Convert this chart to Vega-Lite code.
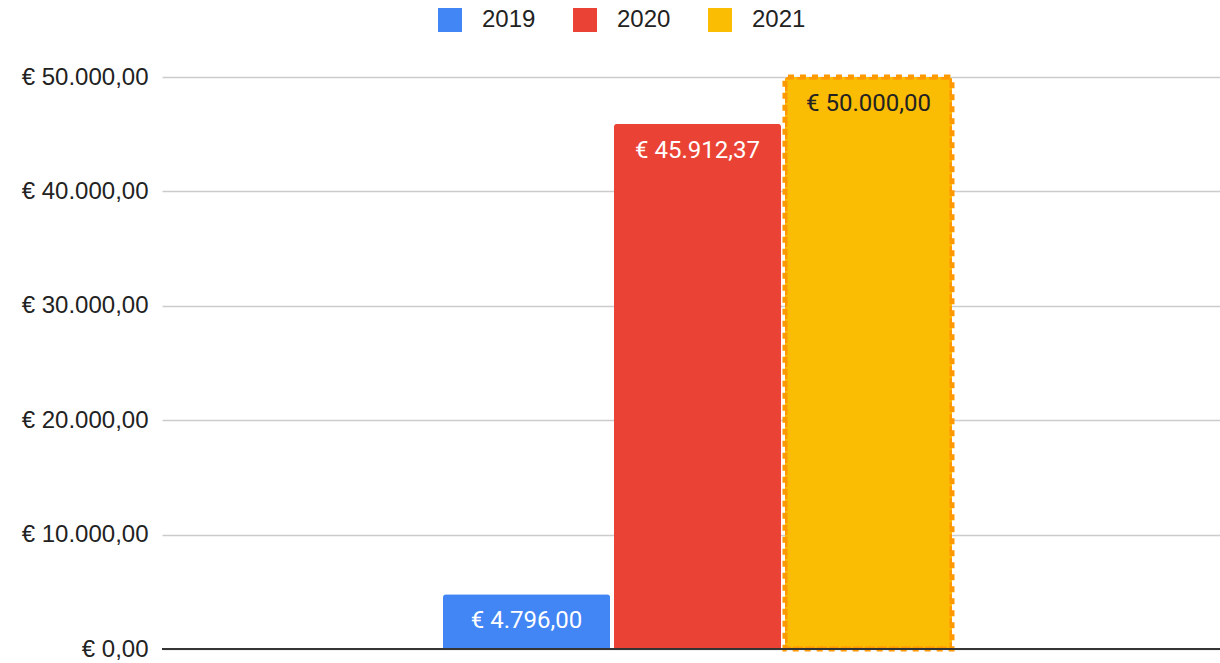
{
  "$schema": "https://vega.github.io/schema/vega-lite/v6.json",
  "width": 1058,
  "height": 572,
  "autosize": {"type": "none"},
  "padding": {"left": 162, "top": 77, "right": 0, "bottom": 14},
  "config": {
    "view": {"stroke": null},
    "locale": {"number": {"decimal": ",", "thousands": ".", "grouping": [3], "currency": ["€ ", ""]}}
  },
  "data": {"values": [
    {"group": "all", "year": "2019", "value": 4796},
    {"group": "all", "year": "2020", "value": 45912.37},
    {"group": "all", "year": "2021", "value": 50000}
  ]},
  "encoding": {
    "x": {"field": "group", "type": "nominal", "scale": {"paddingInner": 0, "paddingOuter": 0}, "axis": null},
    "xOffset": {"field": "year", "type": "nominal", "scale": {"range": [281, 790], "paddingInner": 0.023, "paddingOuter": 0}},
    "y": {"field": "value", "type": "quantitative", "scale": {"domain": [0, 50000], "nice": false},
      "axis": {"values": [0, 10000, 20000, 30000, 40000, 50000], "format": "$,.2f", "title": null, "domain": false, "ticks": false,
        "labelFontSize": 24, "labelFont": "Liberation Sans", "labelColor": "#222222", "labelPadding": 14, "gridColor": "#cccccc", "gridWidth": 1.5}}
  },
  "layer": [
    {
      "mark": {"type": "bar", "cornerRadiusTopLeft": 3, "cornerRadiusTopRight": 3, "strokeWidth": 5, "strokeDash": [6, 6]},
      "encoding": {
        "color": {"field": "year", "type": "nominal",
          "scale": {"domain": ["2019", "2020", "2021"], "range": ["#4285F4", "#EA4335", "#FBBC04"]},
          "legend": {"title": null, "orient": "none", "direction": "horizontal", "legendX": 276, "legendY": -69,
            "symbolType": "square", "symbolSize": 576, "symbolStrokeWidth": 0, "symbolOpacity": 1,
            "labelFontSize": 24, "labelFont": "Liberation Sans", "labelColor": "#222222", "labelOffset": 20, "columnPadding": 37}},
        "stroke": {"condition": {"test": "datum.year === '2021'", "value": "#FF9900"}, "value": null}
      }
    },
    {
      "mark": {"type": "rule", "color": "#333333", "strokeWidth": 1.5},
      "encoding": {"y": {"datum": 0}, "x": null, "xOffset": null}
    },
    {
      "mark": {"type": "text", "baseline": "top", "dy": 15, "fontSize": 24, "font": "Roboto"},
      "encoding": {
        "text": {"field": "value", "type": "quantitative", "format": "$,.2f"},
        "color": {"condition": {"test": "datum.year === '2021'", "value": "#222222"}, "value": "#ffffff"}
      }
    }
  ]
}
